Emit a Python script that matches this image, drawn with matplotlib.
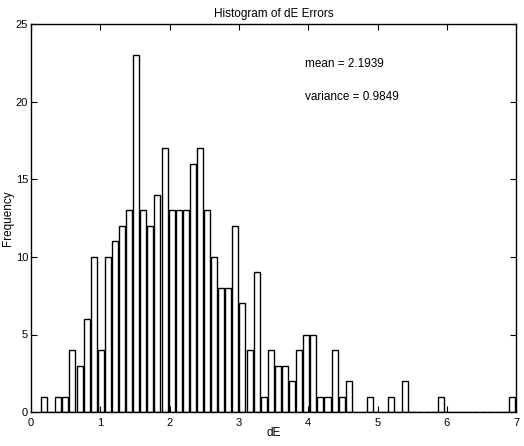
import numpy as np
from matplotlib import pyplot as plt

# counts per bin (67 equal bins between min and max dE)
counts = [1, 0, 1, 1, 4, 3, 6, 10, 4, 10, 11, 12, 13, 23, 13, 12, 14,
          17, 13, 13, 13, 16, 17, 13, 10, 8, 8, 12, 7, 4, 9, 1, 4, 3,
          3, 2, 4, 5, 5, 1, 1, 4, 1, 2, 0, 0, 1, 0, 0, 1, 0, 2,
          0, 0, 0, 0, 1, 0, 0, 0, 0, 0, 0, 0, 0, 0, 1]
dE_min = 0.139
dE_max = 6.987
mean_dE = 2.1939
var_dE = 0.9849

xticks = [0, 1, 2, 3, 4, 5, 6, 7]
yticks = [0, 5, 10, 15, 20, 25]

edges = np.linspace(dE_min, dE_max, len(counts) + 1)
centers = (edges[:-1] + edges[1:]) / 2
binw = edges[1] - edges[0]

plt.rcParams['font.family'] = ['Liberation Sans', 'DejaVu Sans']

fig = plt.figure(figsize=(5.24, 4.46), dpi=100)
ax = fig.add_axes([0.059, 0.076, 0.926, 0.870])

ax.bar(centers, counts, width=binw * 0.85, color='white',
       edgecolor='black', linewidth=1.0)

ax.set_xlim(0, 7)
ax.set_ylim(0, 25)
ax.set_xticks(xticks)
ax.set_yticks(yticks)
ax.tick_params(direction='in', top=True, right=True, labelsize=8, length=4)
ax.tick_params(axis='y', pad=2)
ax.tick_params(axis='x', pad=4)
for s in ax.spines.values():
    s.set_linewidth(1.0)

ax.set_title('Histogram of dE Errors', fontsize=8.5, pad=5)
ax.set_xlabel('dE', fontsize=8.5, va='center')
ax.set_ylabel('Frequency', fontsize=8.5, va='center')
ax.xaxis.set_label_coords(0.5, -0.055)
ax.yaxis.set_label_coords(-0.047, 0.5)

ax.text(3.95, 22.4, 'mean = %.4f' % mean_dE, fontsize=8.5, va='center')
ax.text(3.95, 20.3, 'variance = %.4f' % var_dE, fontsize=8.5, va='center')

fig.savefig('out.png', dpi=100)
